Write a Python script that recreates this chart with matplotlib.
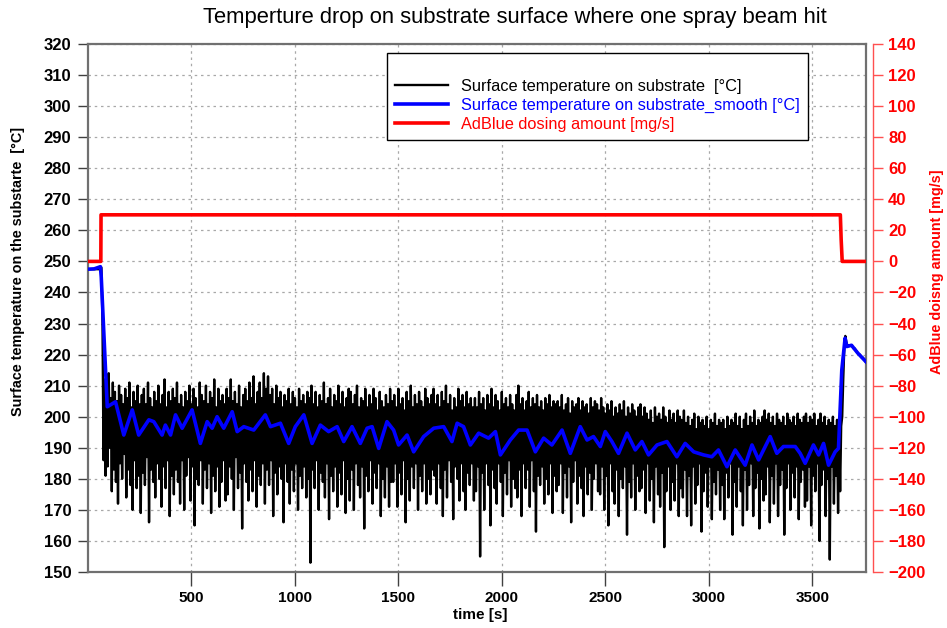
import numpy as np
import matplotlib.pyplot as plt
from matplotlib.font_manager import FontProperties

plt.rcParams['path.simplify'] = False

# raw surface temperature, one sample every 5 s from t = 0
sample_step = 5
temp_raw = [
    247.5, 247.5, 247.5, 247.5, 247.5, 247.5, 247.5, 247.5, 247.5, 247.5, 247.5, 247.5, 248, 248,
    230, 186, 212, 181, 209, 184, 214, 190, 206, 176, 211, 183, 208, 179, 205, 172, 210, 185, 207, 180,
    204, 188, 209, 174, 206, 183, 211, 178, 203, 170, 208, 186, 205, 177, 210, 181, 204, 169, 207, 182,
    209, 178, 204, 187, 211, 166, 206, 183, 203, 179, 208, 174, 205, 185, 210, 180, 204, 171, 207, 184,
    212, 177, 203, 186, 208, 168, 205, 181, 209, 175, 206, 183, 211, 179, 204, 172, 207, 186, 203, 170,
    208, 181, 205, 187, 210, 173, 204, 184, 209, 165, 206, 180, 203, 178, 211, 186, 207, 172, 205, 183,
    210, 177, 204, 185, 208, 169, 206, 181, 212, 176, 203, 184, 209, 171, 205, 179, 207, 186, 204, 173,
    209, 175, 206, 184, 212, 180, 205, 170, 208, 187, 204, 177, 210, 182, 203, 164, 207, 185, 209, 179,
    205, 173, 211, 183, 206, 176, 213, 186, 204, 171, 208, 181, 211, 178, 206, 185, 214, 172, 209, 183,
    213, 178, 207, 186, 209, 168, 204, 182, 210, 175, 206, 184, 208, 180, 203, 166, 207, 185, 205, 179,
    209, 172, 204, 183, 208, 176, 206, 185, 203, 170, 209, 181, 205, 177, 207, 184, 204, 174, 208, 180,
    206, 153, 210, 183, 204, 177, 208, 186, 203, 170, 207, 182, 205, 179, 211, 174, 204, 185, 206, 167,
    209, 181, 203, 176, 207, 184, 205, 171, 210, 182, 204, 175, 208, 186, 203, 169, 206, 180, 209, 173,
    208, 183, 204, 170, 207, 185, 210, 178, 203, 174, 206, 184, 205, 164, 209, 181, 203, 176, 207, 186,
    204, 172, 209, 182, 206, 177, 202, 185, 208, 168, 205, 180, 203, 174, 207, 184, 204, 171, 209, 179,
    205, 179, 207, 185, 203, 171, 209, 182, 204, 175, 206, 186, 202, 166, 208, 180, 205, 173, 210, 184,
    203, 177, 207, 185, 204, 170, 208, 181, 205, 176, 203, 185, 209, 172, 206, 180, 204, 175, 207, 183,
    209, 181, 204, 172, 207, 185, 203, 177, 208, 168, 205, 183, 210, 174, 204, 186, 207, 179, 202, 167,
    206, 184, 203, 180, 209, 173, 205, 185, 207, 176, 203, 170, 208, 182, 204, 178, 206, 185, 203, 173,
    206, 176, 203, 184, 208, 155, 204, 182, 206, 170, 202, 185, 207, 178, 204, 165, 209, 183, 203, 177,
    207, 172, 205, 185, 202, 179, 208, 168, 204, 182, 206, 175, 203, 186, 207, 171, 204, 180, 202, 177,
    207, 174, 210, 183, 204, 168, 206, 185, 202, 177, 205, 183, 208, 171, 203, 186, 206, 176, 204, 163,
    207, 181, 203, 178, 205, 184, 202, 172, 206, 180, 204, 175, 207, 185, 203, 169, 205, 181, 204, 176,
    205, 178, 203, 185, 207, 169, 202, 182, 204, 174, 206, 184, 201, 166, 205, 179, 203, 186, 204, 172,
    206, 181, 202, 177, 205, 168, 203, 184, 204, 175, 201, 182, 206, 170, 203, 180, 205, 185, 204, 176,
    202, 175, 206, 184, 203, 170, 201, 181, 204, 165, 202, 185, 205, 176, 200, 172, 203, 183, 201, 168,
    204, 180, 202, 177, 205, 184, 200, 162, 203, 179, 201, 174, 204, 185, 202, 170, 200, 181, 203, 176,
    204, 177, 200, 183, 203, 169, 201, 185, 199, 173, 202, 180, 198, 166, 203, 184, 200, 175, 201, 171,
    199, 182, 203, 158, 200, 176, 198, 184, 202, 170, 199, 179, 201, 173, 198, 185, 202, 168, 200, 177,
    199, 174, 202, 183, 198, 168, 200, 181, 197, 165, 199, 184, 201, 172, 196, 178, 200, 185, 198, 163,
    199, 176, 197, 182, 200, 171, 196, 184, 199, 167, 198, 179, 201, 175, 197, 183, 199, 170, 198, 178,
    199, 167, 196, 182, 200, 174, 197, 185, 199, 162, 198, 179, 201, 171, 197, 184, 200, 176, 196, 165,
    199, 183, 201, 170, 197, 178, 200, 185, 198, 168, 202, 177, 197, 182, 199, 164, 198, 180, 200, 173,
    202, 175, 199, 184, 201, 166, 198, 181, 200, 172, 197, 185, 201, 168, 199, 178, 198, 183, 200, 162,
    197, 177, 201, 185, 199, 170, 198, 182, 200, 174, 197, 184, 201, 167, 199, 179, 198, 183, 200, 171,
    201, 173, 198, 184, 200, 165, 199, 181, 201, 176, 197, 185, 199, 160, 201, 178, 198, 183, 200, 168,
    197, 180, 199, 154, 198, 184, 200, 172, 197, 181, 199, 169, 198, 176, 197,
    200, 212, 222, 226, 224, 223, 223, 223, 223, 223, 222.5, 222, 222, 221.5, 221, 220.5, 220, 220,
    219.5, 219, 219, 218.5, 218, 217.5,
]
time_raw = np.arange(len(temp_raw)) * sample_step

# smoothed surface temperature
smooth_time = [0, 30, 60, 64, 93, 133, 173, 214, 245, 294, 318, 358, 374, 399, 423, 455,
               503, 543, 576, 600, 624, 656, 697, 721, 753, 801, 857, 882, 930, 970, 1002,
               1043, 1083, 1123, 1163, 1204, 1236, 1276, 1316, 1349, 1373, 1405, 1445, 1477,
               1501, 1542, 1574, 1622, 1671, 1719, 1759, 1784, 1815, 1848, 1888, 1936, 1969,
               1993, 2041, 2081, 2122, 2162, 2202, 2242, 2291, 2331, 2379, 2412, 2443, 2476,
               2500, 2532, 2564, 2605, 2645, 2677, 2709, 2750, 2798, 2846, 2886, 2927, 2975,
               3015, 3047, 3088, 3128, 3176, 3209, 3241, 3297, 3329, 3361, 3418, 3442, 3466,
               3506, 3531, 3555, 3579, 3611, 3627, 3643, 3659, 3667, 3690, 3720, 3760]
smooth_temp = [247.5, 247.6, 248.3, 245.0, 203.2, 204.8, 194.1, 202.2, 194.1, 199.0, 198.4,
               194.1, 197.3, 194.1, 200.6, 196.3, 202.2, 191.4, 198.4, 196.3, 200.0, 196.3,
               201.6, 195.2, 196.8, 195.7, 200.6, 196.8, 197.9, 191.4, 196.8, 200.6, 191.4,
               197.3, 195.2, 196.8, 192.0, 196.8, 191.4, 196.3, 196.8, 189.8, 198.4, 195.7,
               190.9, 194.1, 188.7, 193.6, 196.3, 196.8, 192.0, 197.9, 196.8, 190.9, 194.7,
               193.1, 195.2, 187.7, 192.5, 195.7, 195.7, 188.7, 193.1, 190.9, 195.7, 188.2,
               196.8, 192.5, 193.6, 190.4, 195.2, 192.0, 188.2, 194.7, 189.3, 192.0, 187.7,
               190.9, 192.0, 187.1, 191.4, 188.7, 187.7, 187.1, 189.3, 183.9, 189.3, 184.4,
               190.9, 186.1, 193.6, 188.2, 190.4, 190.4, 188.2, 185.0, 190.9, 187.7, 191.4,
               184.4, 188.7, 189.8, 215.0, 225.3, 222.6, 223.0, 220.5, 217.7]

# AdBlue dosing amount
dosing_time = [0, 62, 63, 3636, 3640, 3645, 3760]
dosing_amount = [0, 0, 30, 30, 14, 0, 0]

temp_ticks = list(range(150, 321, 10))
dosing_ticks = list(range(-200, 141, 20))
time_ticks = [500, 1000, 1500, 2000, 2500, 3000, 3500]

W, H = 947, 628
fig = plt.figure(figsize=(W / 100, H / 100), dpi=100)
ax = fig.add_axes([88 / W, 1 - 572 / H, 778 / W, 528 / H])
ax2 = ax.twinx()

l1, = ax.plot(time_raw, temp_raw, color='black', lw=1.7, zorder=2)
l2, = ax.plot(smooth_time, smooth_temp, color='#0000ff', lw=2.6, zorder=3)
l3, = ax2.plot(dosing_time, dosing_amount, color='#ff0000', lw=2.6)

ax.set_xlim(0, 3760)
ax.set_ylim(150, 320)
ax2.set_ylim(-200, 140)
ax.set_xticks(time_ticks)
ax.set_yticks(temp_ticks)
ax2.set_yticks(dosing_ticks)

ax.grid(True, color='#a8a8a8', linestyle=(0, (2, 3)), lw=0.9)

for s in ['left', 'bottom', 'top', 'right']:
    ax.spines[s].set_color('#707070')
    ax.spines[s].set_linewidth(1.6)
for s in ['left', 'bottom', 'top']:
    ax2.spines[s].set_visible(False)
ax2.spines['right'].set_position(('outward', 5))
ax2.spines['right'].set_color('#ff5050')
ax2.spines['right'].set_linewidth(1.0)

ax.tick_params(axis='y', direction='out', length=7, width=1, color='#404040', pad=5)
ax.tick_params(axis='x', direction='out', length=10, width=1, color='#404040', pad=4)
ax2.tick_params(axis='y', direction='out', length=7, width=1, color='#ff5050', pad=4)

bold = FontProperties(family='Liberation Sans', weight='bold', size=12)
xbold = FontProperties(family='Liberation Sans', weight='bold', size=11)
for lab in ax.get_yticklabels():
    lab.set_fontproperties(bold)
for lab in ax.get_xticklabels():
    lab.set_fontproperties(xbold)
for lab in ax2.get_yticklabels():
    lab.set_fontproperties(bold)
    lab.set_color('#ff0000')

fig.text(515 / W, 1 - 18 / H, 'Temperture drop on substrate surface where one spray beam hit',
         ha='center', va='center', fontsize=15.8, family='Liberation Sans')
fig.text(18 / W, 1 - 272 / H, 'Surface temperature on the substarte  [°C]',
         rotation=90, ha='center', va='center', fontsize=10.4, weight='bold',
         family='Liberation Sans')
fig.text(937 / W, 1 - 272 / H, 'AdBlue doisng amount [mg/s]',
         rotation=90, ha='center', va='center', fontsize=10.4, weight='bold',
         family='Liberation Sans', color='#ff0000')
fig.text(480 / W, 1 - 615 / H, 'time [s]', ha='center', va='center',
         fontproperties=xbold)

leg = ax2.legend([l1, l2, l3],
                 ['Surface temperature on substrate  [°C]',
                  'Surface temperature on substrate_smooth [°C]',
                  'AdBlue dosing amount [mg/s]'],
                 loc='upper left', bbox_to_anchor=(387 / W, 1 - 53 / H),
                 bbox_transform=fig.transFigure, fancybox=False, edgecolor='black',
                 framealpha=1, title=' ', title_fontsize=10,
                 prop={'family': 'Liberation Sans', 'size': 11.8},
                 handlelength=3.2, handletextpad=0.8, labelspacing=0.24, borderpad=0.5,
                 borderaxespad=0)
leg.get_frame().set_linewidth(1.0)
for txt, ln in zip(leg.get_texts(), [l1, l2, l3]):
    txt.set_color(ln.get_color())

fig.savefig('out.png', dpi=100)
